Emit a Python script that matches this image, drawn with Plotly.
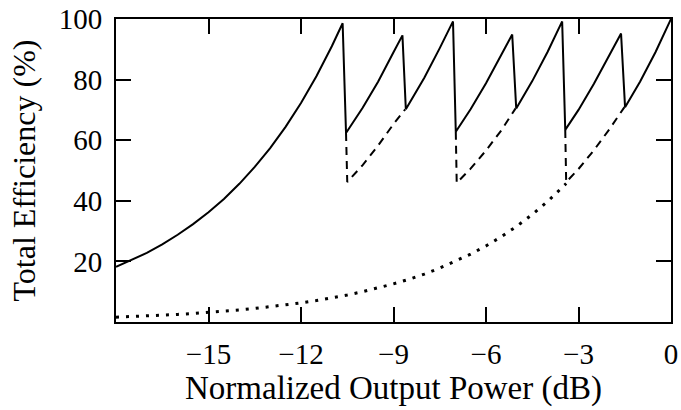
import plotly.graph_objects as go

# Solid: total efficiency of the multi-level system (dB, %)
solid_x = [-18, -17.5, -17, -16.5, -16, -15.5, -15, -14.5, -14, -13.5, -13, -12.5, -12, -11.5, -11, -10.65,
           -10.54, -10, -9.5, -9, -8.71,
           -8.6, -8, -7.5, -7.07,
           -6.98, -6.5, -6, -5.5, -5.15,
           -5.02, -4.5, -4, -3.53,
           -3.43, -3, -2.5, -2, -1.62,
           -1.49, -1, -0.5, 0]
solid_y = [18.2, 20.4, 22.8, 25.6, 28.8, 32.3, 36.2, 40.6, 45.6, 51.2, 57.4, 64.4, 72.3, 81.1, 91.0, 98.6,
           62.4, 70.7, 79.3, 89.0, 94.6,
           70.2, 80.6, 90.4, 99.2,
           62.8, 70.2, 78.8, 88.4, 94.9,
           70.5, 79.5, 89.2, 99.2,
           63.4, 70.0, 78.6, 88.2, 95.2,
           70.9, 79.4, 89.1, 100]

# Dashed segments (None separates pieces)
dash_x = [-10.54, -10.5, -10, -9.5, -9, -8.62, None,
          -6.98, -6.95, -6.5, -6, -5.5, -5.04, None,
          -3.43, -3.40, -3, -2.5, -2, -1.51]
dash_y = [62.4, 46.2, 51.8, 58.2, 65.3, 70.2, None,
          62.8, 45.9, 50.6, 56.6, 63.3, 70.5, None,
          63.4, 46.2, 50.5, 56.7, 63.6, 70.9]

# Dotted: single amplifier efficiency
dot_x = [-18, -17.5, -17, -16.5, -16, -15.5, -15, -14.5, -14, -13.5, -13, -12.5, -12, -11.5, -11,
         -10.5, -10, -9.5, -9, -8.5, -8, -7.5, -7, -6.5, -6, -5.5, -5, -4.5, -4, -3.4]
dot_y = [1.58, 1.78, 2.00, 2.24, 2.51, 2.82, 3.16, 3.55, 3.98, 4.47, 5.01, 5.62, 6.31, 7.08, 7.94,
         8.91, 10.0, 11.2, 12.6, 14.1, 15.8, 17.8, 20.0, 22.4, 25.1, 28.2, 31.6, 35.5, 39.8, 45.7]

x_ticks = [-15, -12, -9, -6, -3, 0]
y_ticks = [20, 40, 60, 80, 100]

fig = go.Figure()
fig.add_trace(go.Scatter(x=dot_x, y=dot_y, mode="lines",
                         line=dict(color="black", width=3, dash="3px,7px"), showlegend=False))
fig.add_trace(go.Scatter(x=dash_x, y=dash_y, mode="lines", connectgaps=False,
                         line=dict(color="black", width=2, dash="8px,6px"), showlegend=False))
fig.add_trace(go.Scatter(x=solid_x, y=solid_y, mode="lines",
                         line=dict(color="black", width=2), showlegend=False))

font_family = "Liberation Serif"
fig.update_layout(
    width=681, height=410,
    margin=dict(l=116, r=10, t=19, b=88),
    paper_bgcolor="white", plot_bgcolor="white",
    font=dict(family=font_family, color="black", size=29),
    xaxis=dict(range=[-18, 0], tickvals=x_ticks, ticks="inside", ticklen=15, tickwidth=2,
               tickcolor="black", showline=True, linecolor="black", linewidth=2, mirror="ticks",
               showgrid=False, zeroline=False, ticklabelstandoff=5, automargin=False,
               tickfont=dict(size=29),
               title=dict(text="Normalized Output Power (dB)", standoff=4, font=dict(size=33))),
    yaxis=dict(range=[0, 100], tickvals=y_ticks, ticks="inside", ticklen=15, tickwidth=2,
               tickcolor="black", showline=True, linecolor="black", linewidth=2, mirror="ticks",
               showgrid=False, zeroline=False, ticklabelstandoff=6, automargin=False,
               tickfont=dict(size=29),
               title=dict(text="Total Efficiency (%)", standoff=14, font=dict(size=32))),
)

fig.write_html("out.html", config={"displayModeBar": False},
               post_script="document.body.style.margin='0px';document.body.style.overflow='hidden';")
